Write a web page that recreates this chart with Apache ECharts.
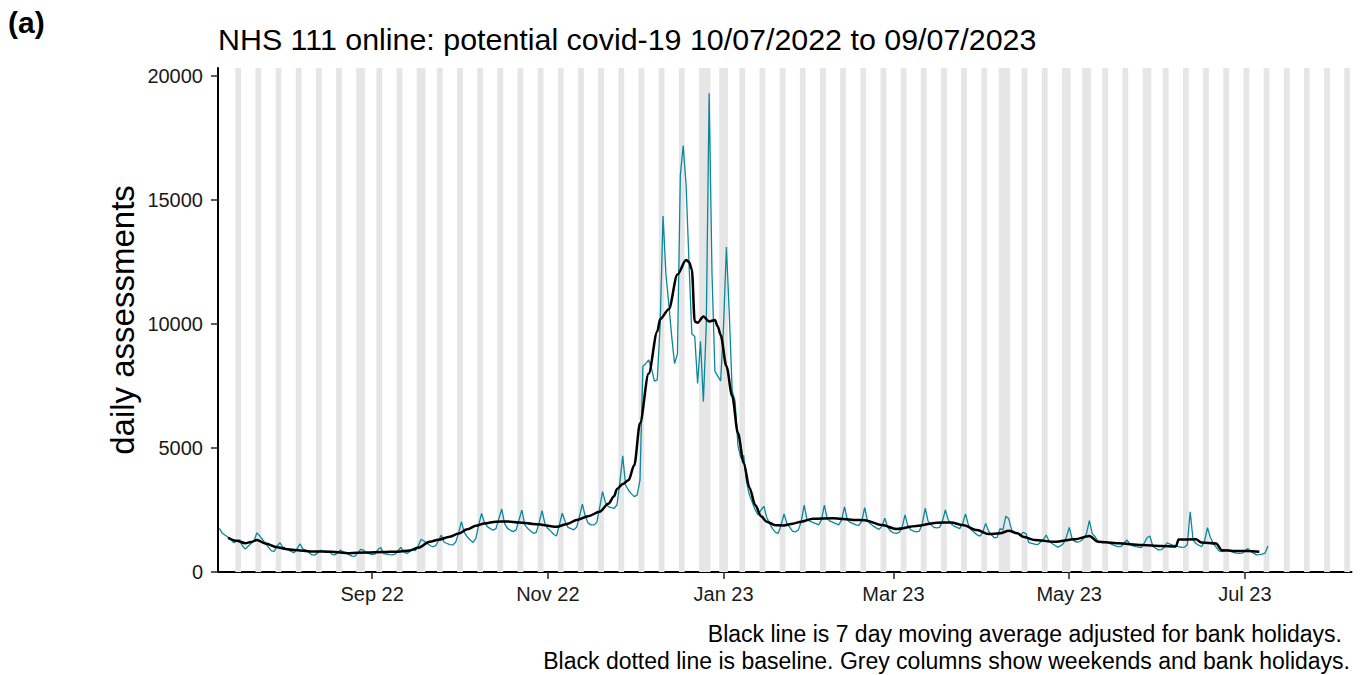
<!DOCTYPE html>
<html>
<head>
<meta charset="utf-8">
<title>NHS 111 online: potential covid-19</title>
<script src="https://cdn.jsdelivr.net/npm/echarts@6/dist/echarts.min.js"></script>
<style>
  html, body { margin: 0; padding: 0; background: #fff; }
  #chart { width: 1362px; height: 675px; }
</style>
</head>
<body>
<div id="chart"></div>
<script>
  // daily assessments, one value per day from 10/07/2022 (a Sunday),
  // then one row per week, Monday to Sunday
  const firstDay = '2022-07-10';
  const dailyValues = [
    1760,
    1560, 1480, 1400, 1300, 1180, 1240, 1300,   // 11 Jul
    1050,  920, 1050, 1150, 1250, 1580, 1450,   // 18 Jul
    1300, 1150, 1000,  850,  830, 1050, 1180,   // 25 Jul
    1000,  940,  880,  820,  780,  950, 1130,   // 1 Aug
     920,  880,  800,  700,  680,  760,  870,   // 8 Aug
     850,  840,  830,  720,  690,  780,  890,   // 15 Aug
     800,  780,  700,  640,  630,  760,  910,   // 22 Aug
     880,  760,  740,  700,  720,  900,  990,   // 29 Aug
     740,  720,  700,  690,  720,  870,  990,   // 5 Sep
     800,  750,  820,  900,  860, 1050, 1320,   // 12 Sep
    1250, 1160, 1080, 1020, 1050, 1250, 1490,   // 19 Sep
    1200, 1150, 1100, 1090, 1200, 1550, 2030,   // 26 Sep
    1600, 1420, 1300, 1190, 1350, 1900, 2360,   // 3 Oct
    2000, 1830, 1750, 1690, 1750, 2150, 2540,   // 10 Oct
    1950, 1760, 1680, 1630, 1700, 2100, 2500,   // 17 Oct
    1900, 1760, 1650, 1560, 1600, 2000, 2470,   // 24 Oct
    1950, 1750, 1650, 1520, 1450, 1900, 2370,   // 31 Oct
    2050, 1800, 1750, 1700, 1800, 2250, 2740,   // 7 Nov
    2250, 1970, 1900, 1900, 2000, 2600, 3240,   // 14 Nov
    2800, 2640, 2600, 2570, 2700, 3600, 4680,   // 21 Nov
    3500, 3300, 3150, 3040, 3100, 3700, 8300,   // 28 Nov
    8400, 8550, 8200, 7700, 7750, 10000, 14350, // 5 Dec
    12000, 10800, 9500, 8400, 8800, 16000, 17200, // 12 Dec
    15600, 12500, 9600, 9500, 7600, 9300, 6870, // 19 Dec
    9900, 19300, 12000, 8100, 7900, 7700, 9900, // 26 Dec
    13100, 10400, 7300, 6900, 5100, 4600, 4700, // 2 Jan
    3600, 3100, 2800, 2500, 2300, 2500, 2650,   // 9 Jan
    2200, 1950, 1750, 1600, 1560, 1900, 2340,   // 16 Jan
    1960, 1800, 1640, 1620, 1700, 2050, 2700,   // 23 Jan
    2100, 2050, 2000, 1950, 1900, 2100, 2700,   // 30 Jan
    2150, 2050, 2000, 1950, 1900, 2100, 2630,   // 6 Feb
    2100, 2000, 1950, 1900, 1880, 2050, 2600,   // 13 Feb
    2050, 1950, 1850, 1780, 1720, 1850, 2170,   // 20 Feb
    1800, 1650, 1580, 1560, 1600, 1800, 2300,   // 27 Feb
    1850, 1700, 1650, 1620, 1650, 1950, 2570,   // 6 Mar
    2050, 1900, 1800, 1780, 1800, 2050, 2500,   // 13 Mar
    2100, 1950, 1850, 1800, 1750, 1950, 2340,   // 20 Mar
    1900, 1700, 1600, 1500, 1450, 1600, 1960,   // 27 Mar
    1650, 1500, 1380, 1400, 1750, 1700, 2250,   // 3 Apr
    2150, 1700, 1580, 1550, 1480, 1600, 1550,   // 10 Apr
    1180, 1150, 1120, 1100, 1200, 1300, 1490,   // 17 Apr
    1250, 1150, 1080, 1000, 1050, 1150, 1400,   // 24 Apr
    1800, 1350, 1230, 1200, 1250, 1350, 1550,   // 1 May
    2070, 1550, 1420, 1250, 1200, 1180, 1230,   // 8 May
    1150, 1100, 1050, 1020, 1030, 1150, 1290,   // 15 May
    1150, 1060, 1020, 1000,  980, 1150, 1380,   // 22 May
    1450, 1050,  960,  890,  900, 1000, 1180,   // 29 May
    1120, 1080, 1050, 1020,  990, 1000, 1100,   // 5 Jun
    2430, 1300, 1150, 1080, 1020, 1250, 1790,   // 12 Jun
    1400, 1150, 1000,  850,  820,  850,  900,   // 19 Jun
     830,  790,  760,  750,  760,  850,  950,   // 26 Jun
     850,  760,  690,  700,  720,  760, 1050    // 3 Jul
  ];

  // 7 day moving average (black line)
  const maDates = [
    '2022-07-13', '2022-07-16', '2022-07-19', '2022-07-21', '2022-07-23', '2022-07-26',
    '2022-07-30', '2022-08-02', '2022-08-05', '2022-08-11', '2022-08-18', '2022-08-24',
    '2022-08-30', '2022-09-05', '2022-09-10', '2022-09-14', '2022-09-17', '2022-09-21',
    '2022-09-24', '2022-09-28', '2022-10-01', '2022-10-04', '2022-10-07', '2022-10-10',
    '2022-10-14', '2022-10-18', '2022-10-22', '2022-10-28', '2022-11-04', '2022-11-08',
    '2022-11-11', '2022-11-15', '2022-11-19', '2022-11-22', '2022-11-24', '2022-11-25',
    '2022-11-27', '2022-11-29', '2022-12-01', '2022-12-03', '2022-12-06', '2022-12-09',
    '2022-12-10', '2022-12-13', '2022-12-16', '2022-12-19', '2022-12-20', '2022-12-21',
    '2022-12-22', '2022-12-23', '2022-12-25', '2022-12-27', '2022-12-29', '2022-12-30',
    '2022-12-31', '2023-01-02', '2023-01-04', '2023-01-06', '2023-01-08', '2023-01-10',
    '2023-01-12', '2023-01-14', '2023-01-16', '2023-01-19', '2023-01-22', '2023-01-25',
    '2023-01-28', '2023-02-01', '2023-02-08', '2023-02-15', '2023-02-19', '2023-02-25',
    '2023-03-02', '2023-03-09', '2023-03-16', '2023-03-21', '2023-03-25', '2023-03-30',
    '2023-04-03', '2023-04-07', '2023-04-10', '2023-04-13', '2023-04-15', '2023-04-19',
    '2023-04-26', '2023-05-03', '2023-05-08', '2023-05-11', '2023-05-18', '2023-05-26',
    '2023-06-02', '2023-06-07', '2023-06-08', '2023-06-14', '2023-06-16', '2023-06-21',
    '2023-06-23', '2023-06-27', '2023-07-02', '2023-07-06'
  ];
  const maValues = [
    1380, 1260, 1160, 1210, 1290, 1150,
    1000, 930, 890, 830, 815, 755,
    790, 805, 820, 870, 980, 1220,
    1300, 1420, 1550, 1720, 1860, 1960,
    2030, 2040, 2000, 1930, 1820, 1950,
    2100, 2250, 2430, 2750, 3050, 3350,
    3550, 3700, 4300, 6000, 8000, 9700,
    10200, 10600, 12000, 12580, 12500, 12200,
    10100, 10050, 10300, 10100, 10160, 9900,
    9550, 8300, 7100, 5600, 4400, 3400,
    2700, 2250, 2030, 1890, 1880, 1950,
    2030, 2150, 2165, 2100, 2090, 1895,
    1735, 1855, 1990, 2000, 1895, 1690,
    1530, 1560, 1665, 1560, 1420, 1290,
    1220, 1320, 1450, 1220, 1155, 1090,
    1050, 1030, 1310, 1318, 1190, 1150,
    880, 850, 845, 820
  ];

  // grey columns: weekends plus these bank holidays
  const bankHolidays = [
    '2022-08-29', '2022-09-19', '2022-12-26', '2022-12-27', '2023-01-02',
    '2023-04-07', '2023-04-10', '2023-05-01', '2023-05-08', '2023-05-29'
  ];
  const greyFrom = '2022-07-11';
  const greyTo = '2023-08-06';

  // axes (x is a linear axis of timestamps)
  const axisStart = '2022-07-09T12:00:00Z';
  const axisEnd = '2023-08-07';
  const xTickDates = ['2022-09-01', '2022-11-01', '2023-01-01', '2023-03-01', '2023-05-01', '2023-07-01'];
  const xTickLabels = ['Sep 22', 'Nov 22', 'Jan 23', 'Mar 23', 'May 23', 'Jul 23'];
  const yTicks = [0, 5000, 10000, 15000, 20000];
  const yMax = 20323;

  const DAY = 86400000;
  const FONT = '"Liberation Sans", Arial, sans-serif';
  const TEAL = '#0a879c';

  const t0 = Date.parse(firstDay);
  const dailyData = dailyValues.map((v, i) => [t0 + i * DAY, v]);
  const maData = maDates.map((d, i) => [Date.parse(d), maValues[i]]);
  const xTickTimes = xTickDates.map(d => Date.parse(d));

  // join neighbouring grey days into one column
  const runs = [];
  let cur = null;
  for (let t = Date.parse(greyFrom); t <= Date.parse(greyTo); t += DAY) {
    const dt = new Date(t);
    const wd = dt.getUTCDay();
    const iso = dt.toISOString().slice(0, 10);
    if (wd === 0 || wd === 6 || bankHolidays.indexOf(iso) >= 0) {
      if (cur && cur[1] === t - DAY) cur[1] = t;
      else { cur = [t, t]; runs.push(cur); }
    }
  }
  const columns = runs.map(r => [r[0] - DAY / 2, r[1] + DAY / 2]);

  const chart = echarts.init(document.getElementById('chart'), null, { renderer: 'svg' });

  chart.setOption({
    animation: false,
    backgroundColor: '#fff',
    textStyle: { fontFamily: FONT },
    grid: { left: 218, right: 10.5, top: 68, bottom: 103, containLabel: false },
    xAxis: {
      type: 'value',
      min: Date.parse(axisStart),
      max: Date.parse(axisEnd),
      axisLine: { show: true, onZero: false, lineStyle: { color: '#000', width: 2 } },
      axisTick: { show: true, customValues: xTickTimes, length: 7, lineStyle: { color: '#333', width: 1.6 } },
      axisLabel: {
        customValues: xTickTimes,
        fontSize: 20,
        color: '#1a1a1a',
        fontFamily: FONT,
        margin: 12,
        formatter: function (v) {
          const i = xTickTimes.findIndex(t => Math.abs(t - v) < 3600000);
          return i >= 0 ? xTickLabels[i] : '';
        }
      },
      splitLine: { show: false }
    },
    yAxis: {
      type: 'value',
      min: 0,
      max: yMax,
      axisLine: { show: true, lineStyle: { color: '#000', width: 2 } },
      axisTick: { show: true, customValues: yTicks, length: 7, lineStyle: { color: '#333', width: 1.6 } },
      axisLabel: {
        customValues: yTicks,
        fontSize: 20,
        color: '#1a1a1a',
        fontFamily: FONT,
        margin: 15,
        formatter: function (v) { return String(v); }
      },
      splitLine: { show: false }
    },
    graphic: [
      { type: 'text', x: 8, y: 22, style: { text: '(a)', fontSize: 30, fontWeight: 'bold', fontFamily: FONT, fill: '#000', align: 'left', verticalAlign: 'middle' } },
      { type: 'text', x: 218, y: 39, style: { text: 'NHS 111 online: potential covid-19 10/07/2022 to 09/07/2023', fontSize: 30.4, fontFamily: FONT, fill: '#000', align: 'left', verticalAlign: 'middle' } },
      { type: 'text', x: 122, y: 320, rotation: Math.PI / 2, style: { text: 'daily assessments', fontSize: 33, fontFamily: FONT, fill: '#000', align: 'center', verticalAlign: 'middle' } },
      { type: 'text', x: 1342, y: 634, style: { text: 'Black line is 7 day moving average adjusted for bank holidays.', fontSize: 23, fontFamily: FONT, fill: '#000', align: 'right', verticalAlign: 'middle' } },
      { type: 'text', x: 1350, y: 661, style: { text: 'Black dotted line is baseline. Grey columns show weekends and bank holidays.', fontSize: 23, fontFamily: FONT, fill: '#000', align: 'right', verticalAlign: 'middle' } }
    ],
    series: [
      {
        name: 'weekends and bank holidays',
        type: 'custom',
        clip: true,
        silent: true,
        z: 1,
        encode: { x: [0, 1] },
        data: columns,
        renderItem: function (params, api) {
          const p0 = api.coord([api.value(0), 0]);
          const p1 = api.coord([api.value(1), yMax]);
          return {
            type: 'rect',
            shape: { x: p0[0], y: p1[1], width: p1[0] - p0[0], height: p0[1] - p1[1] },
            style: { fill: '#e6e6e6' }
          };
        }
      },
      {
        name: 'daily assessments',
        type: 'line',
        z: 3,
        data: dailyData,
        symbol: 'none',
        lineStyle: { color: TEAL, width: 1.3 }
      },
      {
        name: '7 day moving average',
        type: 'line',
        z: 4,
        data: maData,
        symbol: 'none',
        smooth: 0.3,
        smoothMonotone: 'x',
        lineStyle: { color: '#000', width: 2.5 }
      }
    ]
  });
</script>
</body>
</html>
